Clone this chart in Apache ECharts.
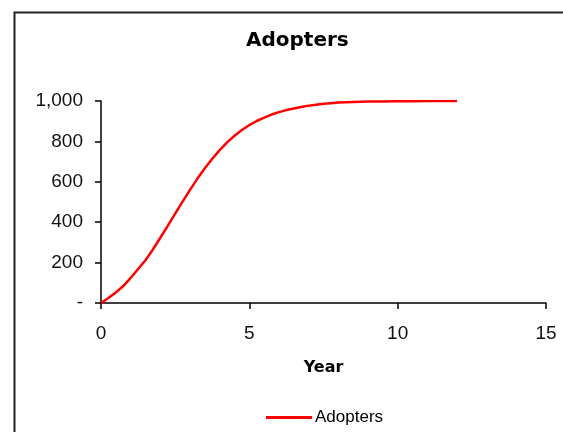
<!DOCTYPE html>
<html>
<head>
<meta charset="utf-8">
<script src="https://cdn.jsdelivr.net/npm/echarts@6/dist/echarts.min.js"></script>
<style>
html, body {margin: 0; padding: 0; background: #fff;}
#main {width: 563px; height: 432px;}
</style>
</head>
<body>
<div id="main"></div>
<script>
// years (0.25 step) and adopters
var years = [0, 0.25, 0.5, 0.75, 1, 1.25, 1.5, 1.75, 2, 2.25, 2.5, 2.75, 3, 3.25, 3.5, 3.75, 4, 4.25, 4.5, 4.75,
    5, 5.25, 5.5, 5.75, 6, 6.25, 6.5, 6.75, 7, 7.25, 7.5, 7.75, 8, 8.25, 8.5, 8.75, 9, 9.5, 10, 10.5, 11, 11.5, 12];
var adopters = [0, 25, 52, 84, 124, 168, 212, 265, 323, 382, 442, 502, 560, 616, 667, 714, 757, 795, 828, 856,
    881, 901, 918, 933, 945, 955, 963, 970, 977, 982, 986, 989, 992, 994, 995, 996, 997, 998, 999, 999, 1000, 1000, 1000];
var xTicks = [0, 5, 10, 15];
var yTicks = [0, 200, 400, 600, 800, 1000];

var points = [];
for (var i = 0; i < years.length; i++) {
    points.push([years[i], adopters[i]]);
}

var chart = echarts.init(document.getElementById('main'));

var option = {
    backgroundColor: '#fff',
    animation: false,
    title: {text: 'Adopters', left: 241, top: 26, textStyle: {fontFamily: 'DejaVu Sans', fontWeight: 'bold', fontSize: 20, color: '#000'}},
    graphic: [{type: 'rect', left: 12, top: 10, shape: {width: 620, height: 500}, style: {fill: 'none', stroke: '#222', lineWidth: 2}, silent: true}],
    grid: {left: 101, right: 17, top: 101, bottom: 129},
    legend: {top: 404, left: 261, icon: 'rect', itemWidth: 46, itemHeight: 3, itemGap: 4,
        textStyle: {fontFamily: 'Liberation Sans', fontSize: 17, color: '#000', padding: [0, 0, 0, -2]}, data: ['Adopters']},
    xAxis: {
        type: 'value', min: xTicks[0], max: xTicks[xTicks.length - 1], interval: 5,
        name: 'Year', nameLocation: 'middle', nameGap: 57,
        nameTextStyle: {fontFamily: 'DejaVu Sans', fontWeight: 'bold', fontSize: 16, color: '#000'},
        axisLine: {lineStyle: {color: '#000', width: 1.5}},
        axisTick: {show: true, length: 6, lineStyle: {color: '#000', width: 1.5}},
        axisLabel: {margin: 21, fontFamily: 'Liberation Sans', fontSize: 19, color: '#111'},
        splitLine: {show: false}
    },
    yAxis: {
        type: 'value', min: yTicks[0], max: yTicks[yTicks.length - 1], interval: 200,
        axisLine: {show: true, lineStyle: {color: '#000', width: 1.5}},
        axisTick: {show: true, length: 6, lineStyle: {color: '#000', width: 1.5}},
        axisLabel: {margin: 18, fontFamily: 'Liberation Sans', fontSize: 19, color: '#111',
            formatter: function (v) { return v === 0 ? '-' : v.toLocaleString('en-US'); }},
        splitLine: {show: false}
    },
    series: [{name: 'Adopters', type: 'line', data: points, symbol: 'none', smooth: false,
        lineStyle: {color: '#ff0000', width: 2.5}, itemStyle: {color: '#ff0000'}}]
};

chart.setOption(option);
</script>
</body>
</html>
